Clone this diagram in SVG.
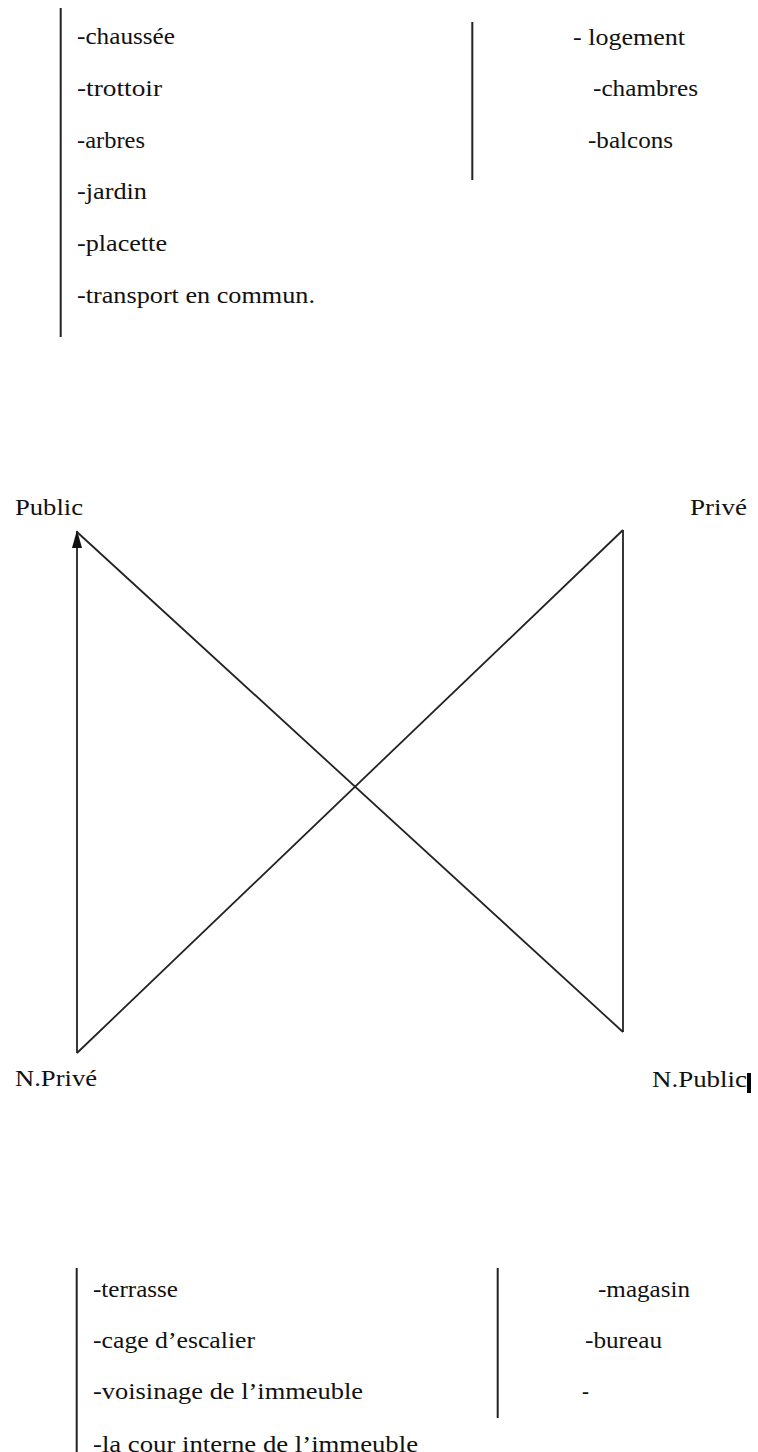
<svg xmlns="http://www.w3.org/2000/svg" width="758" height="1452" viewBox="0 0 758 1452">
<defs>
<style>
text{font-family:"Liberation Serif","DejaVu Serif",serif;font-size:23px;fill:#111;}
.bar{stroke:#222;stroke-width:2;fill:none;}
.edge{stroke:#222;stroke-width:1.8;fill:none;}
</style>
<marker id="arrow" markerWidth="18" markerHeight="10" refX="17" refY="5" orient="auto" markerUnits="userSpaceOnUse" viewBox="0 0 18 10">
<path d="M0,0 L18,5 L0,10 Z" fill="#111"/>
</marker>
</defs>
<rect width="758" height="1452" fill="#fff"/>

<g id="list-top-left">
<line class="bar" x1="60.7" y1="8" x2="60.7" y2="337"/>
<text x="77" y="44" textLength="98" lengthAdjust="spacingAndGlyphs">-chaussée</text>
<text x="77" y="96" textLength="85" lengthAdjust="spacingAndGlyphs">-trottoir</text>
<text x="77" y="148" textLength="68" lengthAdjust="spacingAndGlyphs">-arbres</text>
<text x="77" y="199" textLength="70" lengthAdjust="spacingAndGlyphs">-jardin</text>
<text x="77" y="251" textLength="90" lengthAdjust="spacingAndGlyphs">-placette</text>
<text x="77" y="303" textLength="238" lengthAdjust="spacingAndGlyphs">-transport en commun.</text>
</g>

<g id="list-top-right">
<line class="bar" x1="472.3" y1="22" x2="472.3" y2="180"/>
<text x="573" y="45" textLength="112" lengthAdjust="spacingAndGlyphs">- logement</text>
<text x="593" y="96" textLength="105" lengthAdjust="spacingAndGlyphs">-chambres</text>
<text x="588" y="148" textLength="85" lengthAdjust="spacingAndGlyphs">-balcons</text>
</g>

<g id="node-public">
<text x="15" y="515" textLength="68" lengthAdjust="spacingAndGlyphs">Public</text>
</g>
<g id="node-prive">
<text x="690" y="515" textLength="57" lengthAdjust="spacingAndGlyphs">Privé</text>
</g>
<g id="node-nprive">
<text x="15" y="1086" textLength="82" lengthAdjust="spacingAndGlyphs">N.Privé</text>
</g>
<g id="node-npublic">
<text x="652" y="1087" textLength="95" lengthAdjust="spacingAndGlyphs">N.Public</text>
<rect x="747" y="1073" width="4" height="20" fill="#000"/>
</g>

<g id="connectors">
<line class="edge" x1="77" y1="1053" x2="77" y2="531" marker-end="url(#arrow)"/>
<line class="edge" x1="77" y1="532" x2="623" y2="1032"/>
<line class="edge" x1="623" y1="530" x2="623" y2="1032"/>
<line class="edge" x1="623" y1="530" x2="77" y2="1053"/>
</g>

<g id="list-bottom-left">
<line class="bar" x1="76.7" y1="1268" x2="76.7" y2="1452"/>
<text x="93" y="1297" textLength="85" lengthAdjust="spacingAndGlyphs">-terrasse</text>
<text x="93" y="1348" textLength="162" lengthAdjust="spacingAndGlyphs">-cage d’escalier</text>
<text x="93" y="1399" textLength="270" lengthAdjust="spacingAndGlyphs">-voisinage de l’immeuble</text>
<text x="93" y="1452" textLength="325" lengthAdjust="spacingAndGlyphs">-la cour interne de l’immeuble</text>
</g>

<g id="list-bottom-right">
<line class="bar" x1="497.7" y1="1268" x2="497.7" y2="1418"/>
<text x="598" y="1297" textLength="92" lengthAdjust="spacingAndGlyphs">-magasin</text>
<text x="585" y="1348" textLength="77" lengthAdjust="spacingAndGlyphs">-bureau</text>
<text x="582" y="1399" textLength="7" lengthAdjust="spacingAndGlyphs">-</text>
</g>
</svg>
